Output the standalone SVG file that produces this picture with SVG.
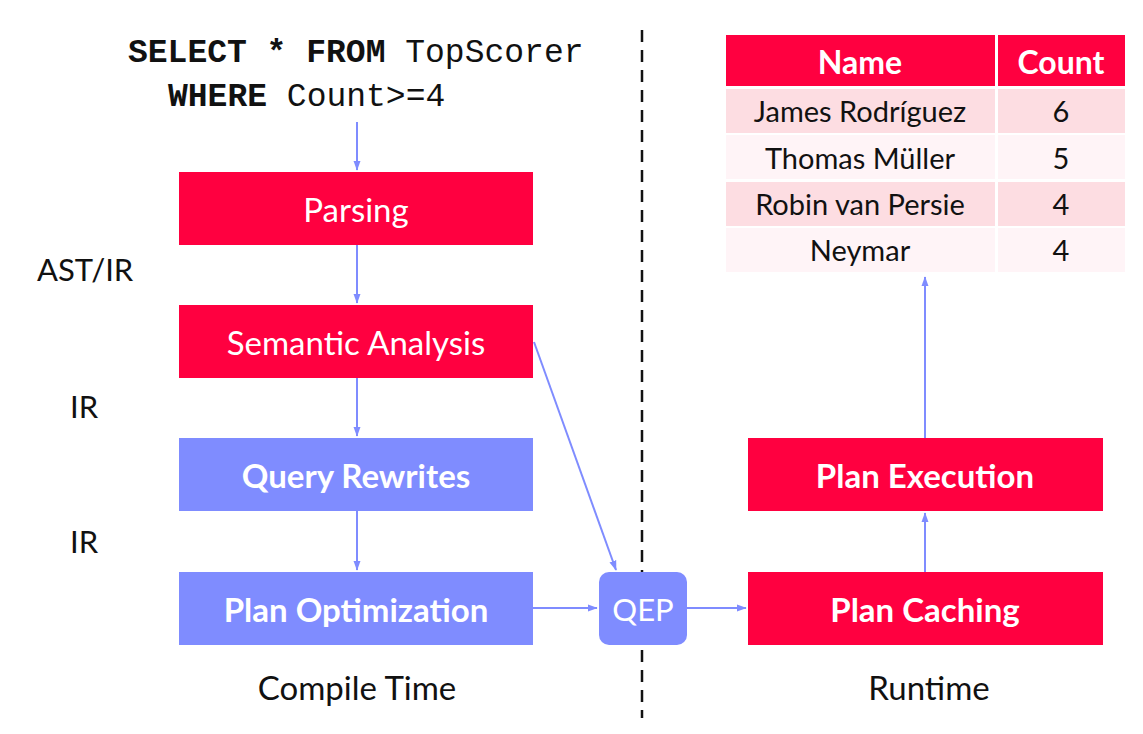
<svg xmlns="http://www.w3.org/2000/svg" width="1143" height="734" viewBox="0 0 1143 734">
<defs>
<marker id="ah" markerWidth="10" markerHeight="14" refX="13" refY="5" orient="auto" markerUnits="userSpaceOnUse" viewBox="0 0 14 10">
<path d="M0,0 L14,5 L0,10 Z" fill="#7f8cff"/>
</marker>
<style>
.red{fill:#ff0040}
.blue{fill:#7f8cff}
.wt{fill:#fff;font-family:Lato,"Open Sans",sans-serif;font-size:33px;text-anchor:middle;dominant-baseline:central}
.wb{fill:#fff;font-family:Lato,"Open Sans",sans-serif;font-size:33px;font-weight:bold;text-anchor:middle;dominant-baseline:central}
.bk{fill:#111;font-family:Lato,"Open Sans",sans-serif;font-size:31px}
.cell{fill:#111;font-family:Lato,"Open Sans",sans-serif;font-size:29px;text-anchor:middle;dominant-baseline:central}
.mono{font-family:"Liberation Mono","DejaVu Sans Mono",monospace;font-size:33px;fill:#111}
.conn{stroke:#7f8cff;stroke-width:2;fill:none;marker-end:url(#ah)}
.r1{fill:#fddde2}
.r2{fill:#fff4f7}
</style>
</defs>
<rect width="1143" height="734" fill="#fff"/>
<line x1="642" y1="30" x2="642" y2="718" stroke="#111" stroke-width="2.5" stroke-dasharray="12,8"/>
<g id="sql">
<text class="mono" x="128" y="62"><tspan font-weight="bold">SELECT * FROM</tspan> TopScorer</text>
<text class="mono" x="168" y="106"><tspan font-weight="bold">WHERE</tspan> Count&gt;=4</text>
</g>
<g id="labels">
<text class="bk" x="37" y="281">AST/IR</text>
<text class="bk" x="70" y="418">IR</text>
<text class="bk" x="70" y="553">IR</text>
<text class="bk" x="357" y="700" text-anchor="middle" style="font-size:33px">Compile Time</text>
<text class="bk" x="929" y="700" text-anchor="middle" style="font-size:33px">Runtime</text>
</g>
<g id="parsing"><rect class="red" x="179" y="172" width="354" height="73"/><text class="wt" x="356" y="209">Parsing</text></g>
<g id="semantic"><rect class="red" x="179" y="305" width="354" height="73"/><text class="wt" x="356" y="342">Semantic Analysis</text></g>
<g id="rewrites"><rect class="blue" x="179" y="438" width="354" height="73"/><text class="wb" x="356" y="475">Query Rewrites</text></g>
<g id="optimization"><rect class="blue" x="179" y="572" width="354" height="73"/><text class="wb" x="356" y="609">Plan Optimization</text></g>
<g id="qep"><rect class="blue" x="599" y="572" width="88" height="73" rx="10"/><text class="wt" x="643" y="609" style="font-size:31px">QEP</text></g>
<g id="caching"><rect class="red" x="748" y="572" width="355" height="73"/><text class="wb" x="925" y="609">Plan Caching</text></g>
<g id="execution"><rect class="red" x="748" y="438" width="355" height="73"/><text class="wb" x="925" y="475">Plan Execution</text></g>
<g id="table">
<rect class="red" x="726" y="35" width="269" height="51"/>
<rect class="red" x="998" y="35" width="127" height="51"/>
<text class="wb" x="860" y="61" style="font-size:32px">Name</text>
<text class="wb" x="1061" y="61" style="font-size:32px">Count</text>
<rect class="r1" x="726" y="89" width="269" height="44"/><rect class="r1" x="998" y="89" width="127" height="44"/>
<rect class="r2" x="726" y="135" width="269" height="44"/><rect class="r2" x="998" y="135" width="127" height="44"/>
<rect class="r1" x="726" y="182" width="269" height="44"/><rect class="r1" x="998" y="182" width="127" height="44"/>
<rect class="r2" x="726" y="228" width="269" height="44"/><rect class="r2" x="998" y="228" width="127" height="44"/>
<text class="cell" x="860" y="110">James Rodríguez</text><text class="cell" x="1061" y="110">6</text>
<text class="cell" x="860" y="157">Thomas Müller</text><text class="cell" x="1061" y="157">5</text>
<text class="cell" x="860" y="203">Robin van Persie</text><text class="cell" x="1061" y="203">4</text>
<text class="cell" x="860" y="249">Neymar</text><text class="cell" x="1061" y="249">4</text>
</g>
<g id="connectors">
<line class="conn" x1="357" y1="122" x2="357" y2="170"/>
<line class="conn" x1="357" y1="245" x2="357" y2="303"/>
<line class="conn" x1="357" y1="378" x2="357" y2="436"/>
<line class="conn" x1="357" y1="511" x2="357" y2="570"/>
<line class="conn" x1="533" y1="608" x2="597" y2="608"/>
<line class="conn" x1="687" y1="608" x2="746" y2="608"/>
<line class="conn" x1="534" y1="342" x2="616" y2="570"/>
<line class="conn" x1="925" y1="572" x2="925" y2="513"/>
<line class="conn" x1="925" y1="438" x2="925" y2="277"/>
</g>
</svg>
